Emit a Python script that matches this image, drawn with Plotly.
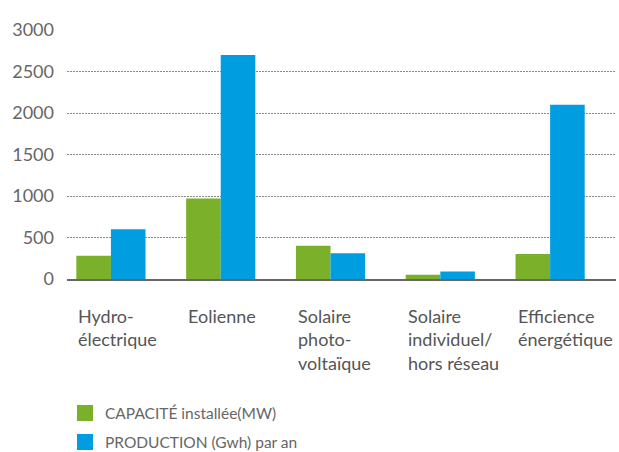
import plotly.graph_objects as go

categories = ["Hydro-<br>électrique", "Eolienne", "Solaire<br>photo-<br>voltaïque",
              "Solaire<br>individuel/<br>hors réseau", "Efficience<br>énergétique"]
capacite = [280, 970, 400, 50, 300]
production = [600, 2700, 310, 90, 2100]
series_names = ["CAPACITÉ installée(MW)", "PRODUCTION (Gwh) par an"]
y_ticks = [0, 500, 1000, 1500, 2000, 2500, 3000]

GREEN = "#7AB02A"
BLUE = "#009EE0"
FONT = "Lato"

idx = list(range(len(categories)))

fig = go.Figure()
fig.add_trace(go.Bar(x=idx, y=capacite, marker=dict(color=GREEN, line=dict(width=0)),
                     showlegend=False))
fig.add_trace(go.Bar(x=idx, y=production, marker=dict(color=BLUE, line=dict(width=0)),
                     showlegend=False))
# legend entries
for name, col, lg in zip(series_names, [GREEN, BLUE], ["legend", "legend2"]):
    fig.add_trace(go.Scatter(x=[None], y=[None], mode="markers", name=name, legend=lg,
                             marker=dict(symbol="square", size=19, color=col, line=dict(width=0))))

for i, lab in enumerate(categories):
    fig.add_annotation(x=i - 0.315, y=0, xref="x", yref="paper", text=lab,
                       showarrow=False, xanchor="left", yanchor="top", align="left",
                       yshift=-24, font=dict(family=FONT, size=18, color="#555555"))

legend_common = dict(xref="container", yref="container", x=0.105, xanchor="left",
                     yanchor="middle", font=dict(family=FONT, size=15.5, color="#666666"),
                     bgcolor="rgba(0,0,0,0)", itemsizing="trace")

fig.update_layout(
    width=619, height=452,
    margin=dict(l=67, r=3, t=30, b=172.5, autoexpand=False),
    paper_bgcolor="white", plot_bgcolor="white",
    barmode="group", bargap=0.37, bargroupgap=0,
    font=dict(family=FONT, color="#666666"),
    xaxis=dict(type="linear", range=[-0.4, 4.6], showticklabels=False, showgrid=False,
               zeroline=False, showline=True, linecolor="#666666", linewidth=2,
               ticks=""),
    yaxis=dict(range=[0, 3000], tickvals=y_ticks, showgrid=True, gridcolor="#8a8a8a",
               griddash="2px,1px", gridwidth=1, zeroline=False, showline=False,
               tickfont=dict(family=FONT, size=18, color="#666666"),
               ticklabelstandoff=12),
    legend=dict(y=1 - 413.4 / 452, **legend_common),
    legend2=dict(y=1 - 442.5 / 452, **legend_common),
    showlegend=True,
)

fig.write_html("out.html")
